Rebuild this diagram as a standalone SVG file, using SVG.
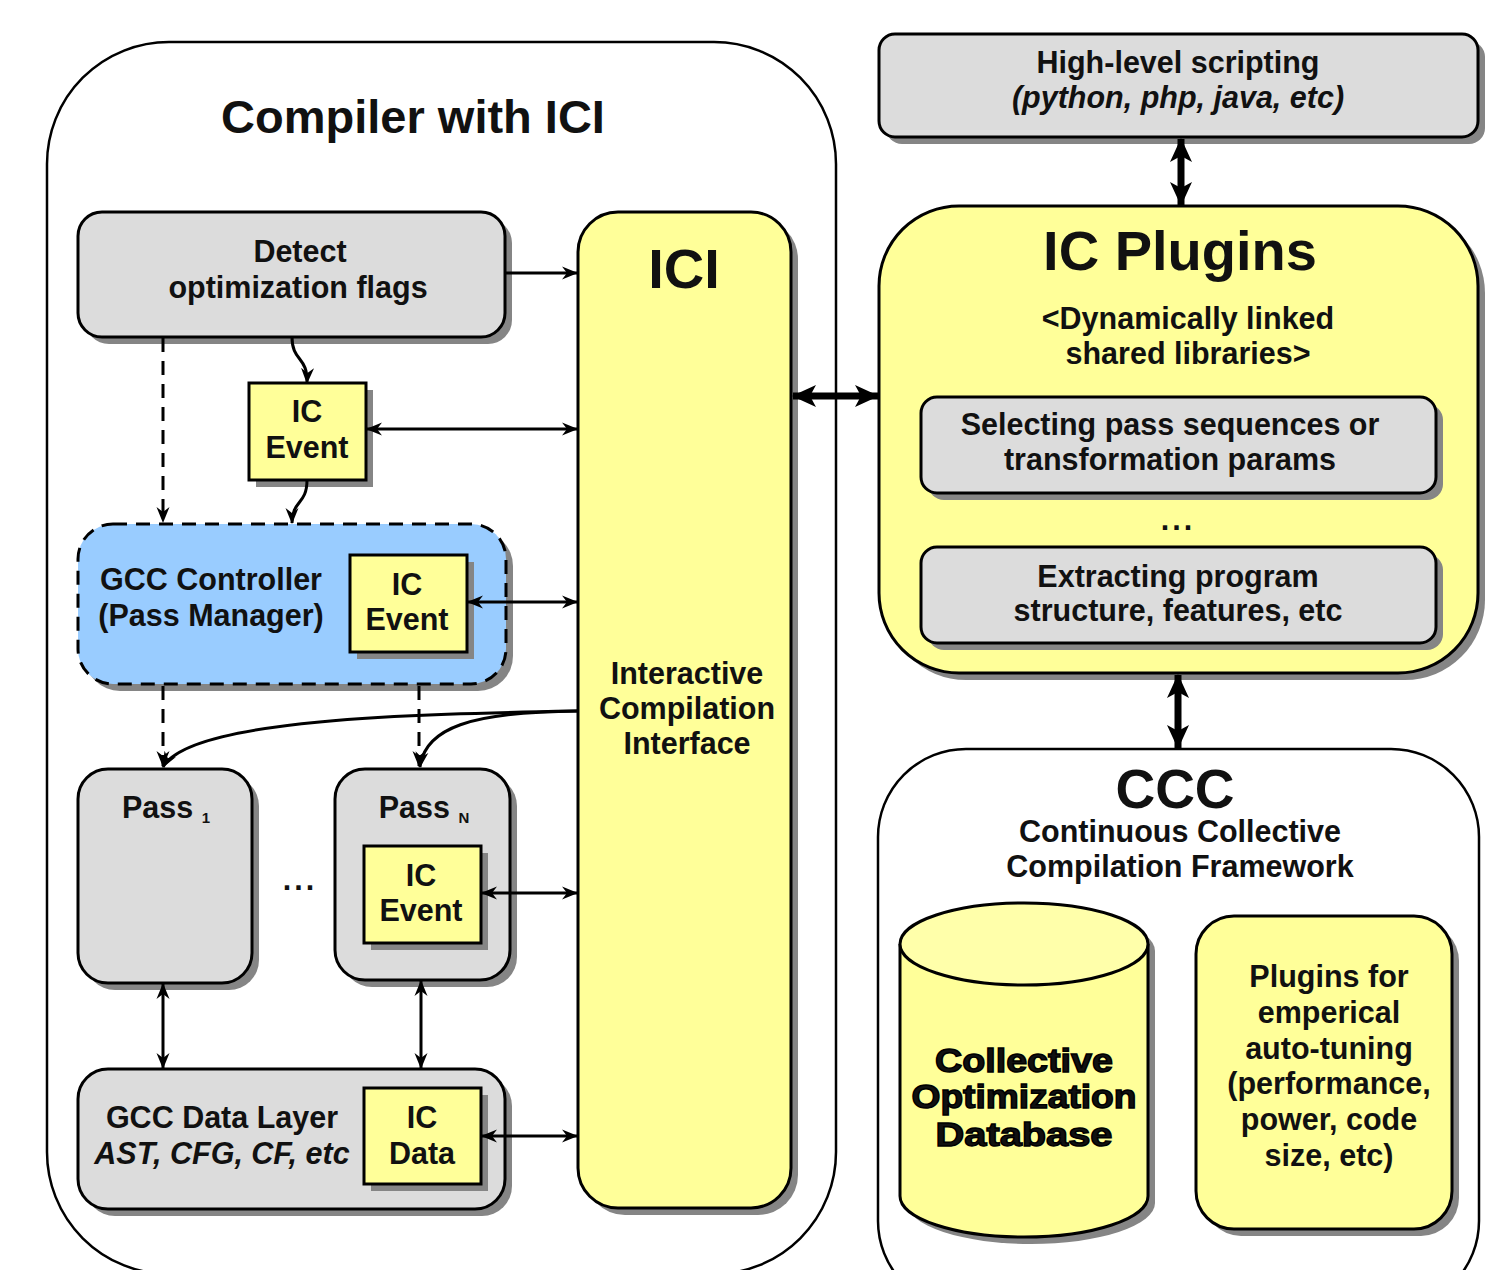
<svg xmlns="http://www.w3.org/2000/svg" width="1509" height="1270" viewBox="0 0 1509 1270">
<style>
text{font-family:"Liberation Sans",Arial,sans-serif;font-weight:bold;fill:#111;text-anchor:middle}
.t28{font-size:30.5px}
.it{font-style:italic}
.box{stroke:#000;stroke-width:3}
.gray{fill:#dcdcdc}
.yel{fill:#ffff99}
.blue{fill:#99ccff}
.sh{fill:#858585}
.frame{fill:#fff;stroke:#000;stroke-width:2.5}
.ln{stroke:#000;stroke-width:3;fill:none}
.dash{stroke:#000;stroke-width:3;fill:none;stroke-dasharray:14 9}
.thick{stroke:#000;stroke-width:7;fill:none}
.db{font-size:33px;stroke:#000;stroke-width:1.4}
</style>
<defs>
<marker id="ah" viewBox="0 0 16 16" refX="15" refY="8" markerWidth="16" markerHeight="16" orient="auto-start-reverse" markerUnits="userSpaceOnUse">
<path d="M0,1.5 L16,8 L0,14.5 L5,8 z" fill="#000"/>
</marker>
<marker id="ahT" viewBox="0 0 24 24" refX="23" refY="12" markerWidth="24" markerHeight="24" orient="auto-start-reverse" markerUnits="userSpaceOnUse">
<path d="M0,1 L24,12 L0,23 L6,12 z" fill="#000"/>
</marker>
</defs>

<g id="compiler">
<rect class="frame" x="47" y="42" width="789" height="1232" rx="122"/>
<text x="413" y="133" style="font-size:47px">Compiler with ICI</text>
</g>

<g id="high-level-scripting">
<rect class="sh" x="886" y="41" width="599" height="103" rx="16"/>
<rect class="box gray" x="879" y="34" width="599" height="103" rx="16"/>
<text class="t28" x="1178" y="73">High-level scripting</text>
<text class="t28 it" x="1178" y="108">(python, php, java, etc)</text>
</g>

<g id="ic-plugins">
<rect class="sh" x="886" y="213" width="599" height="467" rx="80"/>
<rect class="box yel" x="879" y="206" width="599" height="467" rx="80"/>
<text x="1180" y="270" style="font-size:56px">IC Plugins</text>
<text class="t28" x="1188" y="329">&lt;Dynamically linked</text>
<text class="t28" x="1188" y="364">shared libraries&gt;</text>
<text class="t28" x="1178" y="530" style="letter-spacing:3px">...</text>
</g>

<g id="selecting">
<rect class="sh" x="928" y="404" width="515" height="96" rx="16"/>
<rect class="box gray" x="921" y="397" width="515" height="96" rx="16"/>
<text class="t28" x="1170" y="435">Selecting pass sequences or</text>
<text class="t28" x="1170" y="470">transformation params</text>
</g>

<g id="extracting">
<rect class="sh" x="928" y="554" width="515" height="96" rx="16"/>
<rect class="box gray" x="921" y="547" width="515" height="96" rx="16"/>
<text class="t28" x="1178" y="587">Extracting program</text>
<text class="t28" x="1178" y="621">structure, features, etc</text>
</g>

<g id="ccc">
<rect class="frame" x="878" y="749" width="601" height="560" rx="88"/>
<text x="1175" y="808" style="font-size:55px">CCC</text>
<text class="t28" x="1180" y="842">Continuous Collective</text>
<text class="t28" x="1180" y="877">Compilation Framework</text>
</g>

<g id="database">
<path class="sh" d="M907,951 A124,41 0 0 1 1155,951 L1155,1203 A124,41 0 0 1 907,1203 z"/>
<path class="box yel" d="M900,944 L900,1196 A124,41 0 0 0 1148,1196 L1148,944"/>
<ellipse class="box" cx="1024" cy="944" rx="124" ry="41" fill="#ffffaa"/>
<text class="db" x="1024" y="1072" textLength="178" lengthAdjust="spacingAndGlyphs">Collective</text>
<text class="db" x="1024" y="1108" textLength="225" lengthAdjust="spacingAndGlyphs">Optimization</text>
<text class="db" x="1024" y="1146" textLength="177" lengthAdjust="spacingAndGlyphs">Database</text>
</g>

<g id="plugins-autotuning">
<rect class="sh" x="1203" y="923" width="256" height="313" rx="38"/>
<rect class="box yel" x="1196" y="916" width="256" height="313" rx="38"/>
<text class="t28" x="1329" y="987">Plugins for</text>
<text class="t28" x="1329" y="1023">emperical</text>
<text class="t28" x="1329" y="1059">auto-tuning</text>
<text class="t28" x="1329" y="1094">(performance,</text>
<text class="t28" x="1329" y="1130">power, code</text>
<text class="t28" x="1329" y="1166">size, etc)</text>
</g>

<g id="ici">
<rect class="sh" x="585" y="219" width="213" height="996" rx="40"/>
<rect class="box yel" x="578" y="212" width="213" height="996" rx="40"/>
<text x="684" y="288" style="font-size:56px">ICI</text>
<text class="t28" x="687" y="684">Interactive</text>
<text class="t28" x="687" y="719">Compilation</text>
<text class="t28" x="687" y="754">Interface</text>
</g>

<g id="detect">
<rect class="sh" x="85" y="219" width="427" height="125" rx="24"/>
<rect class="box gray" x="78" y="212" width="427" height="125" rx="24"/>
<text class="t28" x="300" y="262">Detect</text>
<text class="t28" x="298" y="298">optimization flags</text>
</g>

<g id="ic-event-1">
<rect class="sh" x="256" y="390" width="117" height="97"/>
<rect class="box yel" x="249" y="383" width="117" height="97"/>
<text class="t28" x="307" y="422">IC</text>
<text class="t28" x="307" y="458">Event</text>
</g>

<g id="gcc-controller">
<rect class="sh" x="85" y="531" width="428" height="160" rx="35"/>
<rect class="blue" x="78" y="524" width="428" height="160" rx="35" stroke="#000" stroke-width="3" stroke-dasharray="14 9"/>
<text class="t28" x="211" y="590">GCC Controller</text>
<text class="t28" x="211" y="626">(Pass Manager)</text>
</g>

<g id="ic-event-2">
<rect class="sh" x="357" y="562" width="117" height="97"/>
<rect class="box yel" x="350" y="555" width="117" height="97"/>
<text class="t28" x="407" y="595">IC</text>
<text class="t28" x="407" y="630">Event</text>
</g>

<g id="pass-1">
<rect class="sh" x="85" y="776" width="174" height="214" rx="30"/>
<rect class="box gray" x="78" y="769" width="174" height="214" rx="30"/>
<text class="t28" x="166" y="818">Pass <tspan style="font-size:15px" dy="5">1</tspan></text>
</g>

<text class="t28" x="300" y="890" style="letter-spacing:3px">...</text>

<g id="pass-n">
<rect class="sh" x="342" y="776" width="175" height="211" rx="30"/>
<rect class="box gray" x="335" y="769" width="175" height="211" rx="30"/>
<text class="t28" x="424" y="818">Pass <tspan style="font-size:15px" dy="5">N</tspan></text>
</g>

<g id="ic-event-3">
<rect class="sh" x="371" y="853" width="117" height="97"/>
<rect class="box yel" x="364" y="846" width="117" height="97"/>
<text class="t28" x="421" y="886">IC</text>
<text class="t28" x="421" y="921">Event</text>
</g>

<g id="gcc-data-layer">
<rect class="sh" x="85" y="1076" width="427" height="140" rx="30"/>
<rect class="box gray" x="78" y="1069" width="427" height="140" rx="30"/>
<text class="t28" x="222" y="1128">GCC Data Layer</text>
<text class="t28 it" x="222" y="1164">AST, CFG, CF, etc</text>
</g>

<g id="ic-data">
<rect class="sh" x="371" y="1095" width="117" height="96"/>
<rect class="box yel" x="364" y="1088" width="117" height="96"/>
<text class="t28" x="422" y="1128">IC</text>
<text class="t28" x="422" y="1164">Data</text>
</g>

<g id="connectors">
<line class="ln" x1="505" y1="273" x2="577" y2="273" marker-end="url(#ah)"/>
<line class="ln" x1="367" y1="429" x2="577" y2="429" marker-start="url(#ah)" marker-end="url(#ah)"/>
<line class="ln" x1="468" y1="602" x2="577" y2="602" marker-start="url(#ah)" marker-end="url(#ah)"/>
<line class="ln" x1="482" y1="893" x2="577" y2="893" marker-start="url(#ah)" marker-end="url(#ah)"/>
<line class="ln" x1="482" y1="1136" x2="577" y2="1136" marker-start="url(#ah)" marker-end="url(#ah)"/>
<path class="ln" d="M292,337 C292,362 308,356 307,383" marker-end="url(#ah)"/>
<path class="ln" d="M307,480 C307,505 292,500 292,523" marker-end="url(#ah)"/>
<line class="dash" x1="163" y1="338" x2="163" y2="522" marker-end="url(#ah)"/>
<line class="dash" x1="163" y1="686" x2="163" y2="766" marker-end="url(#ah)"/>
<line class="dash" x1="419" y1="686" x2="419" y2="766" marker-end="url(#ah)"/>
<path class="ln" d="M578,711 C420,714 190,718 163,767" marker-end="url(#ah)"/>
<path class="ln" d="M578,711 C470,712 425,728 420,767" marker-end="url(#ah)"/>
<line class="ln" x1="163" y1="984" x2="163" y2="1068" marker-start="url(#ah)" marker-end="url(#ah)"/>
<line class="ln" x1="421" y1="981" x2="421" y2="1068" marker-start="url(#ah)" marker-end="url(#ah)"/>
<line class="thick" x1="793" y1="396" x2="878" y2="396" marker-start="url(#ahT)" marker-end="url(#ahT)"/>
<line class="thick" x1="1181" y1="139" x2="1181" y2="205" marker-start="url(#ahT)" marker-end="url(#ahT)"/>
<line class="thick" x1="1178" y1="675" x2="1178" y2="748" marker-start="url(#ahT)" marker-end="url(#ahT)"/>
</g>
</svg>
